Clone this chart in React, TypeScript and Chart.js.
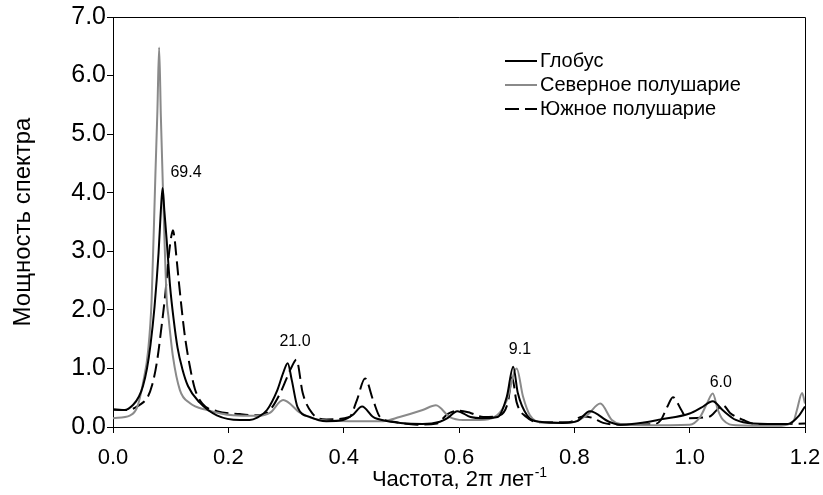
import { useEffect, useRef } from "react";
import { Chart, registerables } from "chart.js";

Chart.register(...registerables);

const seriesNames = ["Глобус", "Северное полушарие", "Южное полушарие"];

const globeX = [0, 0.02, 0.035, 0.045, 0.052, 0.059, 0.065, 0.072, 0.079, 0.083, 0.086, 0.089, 0.093, 0.099, 0.105, 0.112, 0.12, 0.13, 0.15, 0.18, 0.22, 0.237, 0.25, 0.267, 0.285, 0.295, 0.303, 0.31, 0.32, 0.342, 0.37, 0.399, 0.415, 0.432, 0.45, 0.458, 0.498, 0.537, 0.567, 0.58, 0.597, 0.62, 0.64, 0.667, 0.683, 0.694, 0.702, 0.718, 0.74, 0.78, 0.805, 0.827, 0.86, 0.88, 0.9, 0.95, 1.0, 1.02, 1.04, 1.057, 1.08, 1.11, 1.17, 1.19, 1.2];
const globeY = [0.3, 0.29, 0.38, 0.52, 0.7, 1.0, 1.4, 2.05, 2.97, 3.7, 4.08, 3.7, 3.2, 2.4, 1.85, 1.35, 1.0, 0.7, 0.42, 0.2, 0.12, 0.12, 0.16, 0.29, 0.63, 0.92, 1.09, 0.8, 0.34, 0.17, 0.1, 0.12, 0.2, 0.35, 0.18, 0.14, 0.07, 0.05, 0.09, 0.15, 0.27, 0.17, 0.15, 0.17, 0.52, 1.03, 0.58, 0.2, 0.09, 0.07, 0.1, 0.27, 0.09, 0.04, 0.05, 0.13, 0.23, 0.33, 0.44, 0.29, 0.12, 0.06, 0.05, 0.2, 0.35];

const northX = [0, 0.03, 0.042, 0.052, 0.061, 0.067, 0.0735, 0.077, 0.08, 0.083, 0.0865, 0.093, 0.096, 0.104, 0.116, 0.133, 0.163, 0.208, 0.25, 0.272, 0.295, 0.325, 0.354, 0.41, 0.468, 0.497, 0.537, 0.56, 0.584, 0.607, 0.636, 0.666, 0.683, 0.7, 0.711, 0.723, 0.745, 0.792, 0.822, 0.845, 0.865, 0.88, 0.92, 1.0, 1.018, 1.03, 1.04, 1.049, 1.058, 1.08, 1.15, 1.18, 1.186, 1.195, 1.2];
const northY = [0.15, 0.2, 0.34, 0.75, 1.31, 2.17, 4.3, 5.4, 6.48, 5.3, 4.1, 2.2, 1.9, 1.2, 0.63, 0.41, 0.29, 0.2, 0.19, 0.24, 0.46, 0.24, 0.13, 0.1, 0.1, 0.17, 0.29, 0.37, 0.17, 0.12, 0.12, 0.2, 0.46, 1.0, 0.52, 0.2, 0.08, 0.07, 0.2, 0.4, 0.12, 0.05, 0.03, 0.04, 0.17, 0.4, 0.57, 0.29, 0.12, 0.03, 0.02, 0.1, 0.29, 0.58, 0.4];

const southX = [0, 0.025, 0.045, 0.06, 0.068, 0.076, 0.084, 0.091, 0.097, 0.101, 0.104, 0.107, 0.109, 0.115, 0.124, 0.133, 0.142, 0.155, 0.18, 0.22, 0.25, 0.272, 0.29, 0.31, 0.318, 0.329, 0.345, 0.37, 0.41, 0.423, 0.437, 0.451, 0.463, 0.486, 0.527, 0.562, 0.58, 0.6, 0.62, 0.642, 0.671, 0.685, 0.692, 0.7, 0.717, 0.74, 0.79, 0.815, 0.83, 0.85, 0.88, 0.94, 0.95, 0.961, 0.971, 0.985, 0.995, 1.035, 1.048, 1.058, 1.07, 1.093, 1.12, 1.2];
const southY = [0.3, 0.29, 0.37, 0.51, 0.72, 1.1, 1.7, 2.3, 2.95, 3.25, 3.36, 3.2, 3.0, 2.4, 1.6, 1.05, 0.65, 0.4, 0.27, 0.22, 0.2, 0.29, 0.58, 1.03, 1.15, 0.58, 0.24, 0.13, 0.17, 0.46, 0.83, 0.46, 0.17, 0.09, 0.04, 0.06, 0.22, 0.28, 0.24, 0.17, 0.2, 0.43, 0.85, 0.42, 0.17, 0.08, 0.08, 0.18, 0.16, 0.07, 0.04, 0.05, 0.12, 0.34, 0.51, 0.3, 0.15, 0.18, 0.3, 0.37, 0.24, 0.12, 0.04, 0.06];

const xTickValues = [0, 0.2, 0.4, 0.6, 0.8, 1.0, 1.2];
const yTickValues = [0, 1, 2, 3, 4, 5, 6, 7];

const peakLabels = ["69.4", "21.0", "9.1", "6.0"];
const peakLabelX = [0.1266, 0.3156, 0.7057, 1.054];
const peakLabelY = [4.34, 1.45, 1.33, 0.75];

const xTitleMain = "Частота, 2π лет";
const xTitleSup = "-1";
const yTitle = "Мощность спектра";

const FONT = "'Liberation Sans', Arial, sans-serif";

const toPoints = (xs: number[], ys: number[]) => xs.map((x, i) => ({ x, y: ys[i] }));

const extrasPlugin = {
  id: "extras",
  afterDraw(chart: any) {
    const { ctx, chartArea, scales } = chart;
    const xs = scales.x;
    const ys = scales.y;
    ctx.save();
    ctx.strokeStyle = "#000";
    ctx.lineWidth = 1;
    ctx.beginPath();
    ctx.moveTo(chartArea.left, chartArea.top + 0.5);
    ctx.lineTo(chartArea.right + 0.5, chartArea.top + 0.5);
    ctx.lineTo(chartArea.right + 0.5, chartArea.bottom);
    ctx.stroke();

    ctx.fillStyle = "#000";
    ctx.font = `16px ${FONT}`;
    ctx.textAlign = "center";
    ctx.textBaseline = "middle";
    peakLabels.forEach((t, i) => {
      ctx.fillText(t, xs.getPixelForValue(peakLabelX[i]), ys.getPixelForValue(peakLabelY[i]));
    });

    const lx = chartArea.right - 300;
    const ly = chartArea.top + 44;
    chart.data.datasets.forEach((ds: any, i: number) => {
      const y = ly + i * 24;
      ctx.strokeStyle = ds.borderColor;
      ctx.lineWidth = ds.borderWidth;
      ctx.setLineDash(ds.borderDash || []);
      ctx.beginPath();
      ctx.moveTo(lx, y);
      ctx.lineTo(lx + 32, y);
      ctx.stroke();
      ctx.setLineDash([]);
      ctx.fillStyle = "#000";
      ctx.font = `20px ${FONT}`;
      ctx.textAlign = "left";
      ctx.textBaseline = "middle";
      ctx.fillText(ds.label, lx + 35, y);
    });

    ctx.font = `22px ${FONT}`;
    const w1 = ctx.measureText(xTitleMain).width;
    ctx.font = `14px ${FONT}`;
    const w2 = ctx.measureText(xTitleSup).width;
    const cx = (chartArea.left + chartArea.right) / 2;
    const start = cx - (w1 + w2) / 2;
    const base = 486;
    ctx.textAlign = "left";
    ctx.textBaseline = "alphabetic";
    ctx.font = `22px ${FONT}`;
    ctx.fillText(xTitleMain, start, base);
    ctx.font = `14px ${FONT}`;
    ctx.fillText(xTitleSup, start + w1 + 1, base - 9);
    ctx.restore();
  },
};

export default function App() {
  const ref = useRef<HTMLCanvasElement | null>(null);
  useEffect(() => {
    if (!ref.current) return;
    const common = { borderWidth: 2, pointRadius: 0, cubicInterpolationMode: "monotone" as const };
    const chart = new Chart(ref.current, {
      type: "line",
      data: {
        datasets: [
          { label: seriesNames[0], data: toPoints(globeX, globeY), borderColor: "#000000", ...common },
          { label: seriesNames[1], data: toPoints(northX, northY), borderColor: "#8a8a8a", ...common },
          { label: seriesNames[2], data: toPoints(southX, southY), borderColor: "#000000", borderDash: [14, 6], ...common },
        ],
      },
      options: {
        responsive: false,
        animation: false,
        devicePixelRatio: 1,
        layout: { padding: { left: 0, right: 18, top: 17, bottom: 0 } },
        plugins: { legend: { display: false }, tooltip: { enabled: false } },
        scales: {
          x: {
            type: "linear",
            min: 0,
            max: 1.2,
            afterBuildTicks: (s: any) => {
              s.ticks = xTickValues.map((v) => ({ value: v }));
            },
            afterFit: (s: any) => {
              s.height = 68;
              s.paddingLeft = 0;
              s.paddingRight = 0;
            },
            ticks: {
              callback: (v: any) => Number(v).toFixed(1),
              color: "#000",
              font: { family: FONT, size: 22 },
              padding: 12,
              maxRotation: 0,
            },
            grid: { display: true, drawOnChartArea: false, drawTicks: true, tickLength: 6, color: "#000" },
            border: { display: true, color: "#000", width: 1 },
            title: { display: false },
          },
          y: {
            type: "linear",
            min: 0,
            max: 7,
            afterBuildTicks: (s: any) => {
              s.ticks = yTickValues.map((v) => ({ value: v }));
            },
            afterFit: (s: any) => {
              s.width = 113;
              s.paddingTop = 0;
              s.paddingBottom = 0;
            },
            ticks: {
              callback: (v: any) => Number(v).toFixed(1),
              color: "#000",
              font: { family: FONT, size: 25 },
              padding: 1,
            },
            grid: { display: true, drawOnChartArea: false, drawTicks: true, tickLength: 6, color: "#000" },
            border: { display: true, color: "#000", width: 1 },
            title: {
              display: true,
              text: yTitle,
              color: "#000",
              font: { family: FONT, size: 24 },
              padding: { top: 9, bottom: 0 },
            },
          },
        },
      },
      plugins: [extrasPlugin],
    });
    return () => chart.destroy();
  }, []);
  return (
    <div style={{ position: "absolute", left: 0, top: 0, width: 823, height: 495, background: "#fff" }}>
      <canvas ref={ref} width={823} height={495} />
    </div>
  );
}
